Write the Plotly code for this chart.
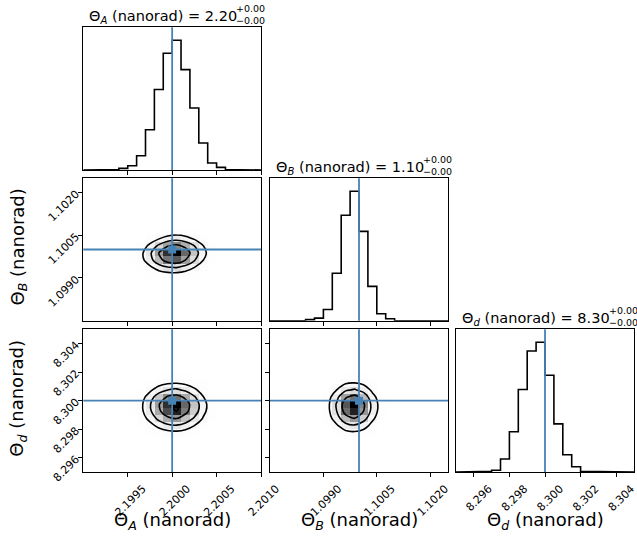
import numpy as np
import plotly.graph_objects as go

# ---- posterior samples binned on a 20-bin grid per parameter ----
N_BINS = 20
RANGE_A = [2.1990, 2.2010]
RANGE_B = [1.0975, 1.1025]
RANGE_D = [8.295, 8.305]

TRUTH_A = 2.2000
TRUTH_B = 1.1000
TRUTH_D = 8.3000

# 1D marginal counts
COUNTS_A = [0, 0, 0, 6, 28, 73, 242, 682, 1364, 1980, 2200, 1703, 1052, 458, 119, 44, 7, 0, 0, 0]
COUNTS_B = [0, 0, 0, 0, 24, 60, 261, 1100, 2440, 2997, 2068, 794, 162, 45, 6, 0, 0, 0, 0, 0]
COUNTS_D = [0, 0, 0, 12, 30, 232, 719, 1476, 2165, 2320, 1731, 861, 309, 93, 12, 0, 0, 0, 0, 0]

# 2D counts (non-empty block only): rows = y bins, cols = x bins
AB_ROW0, AB_COL0 = 4, 5   # B bins 4..13, A bins 5..15
JOINT_AB = [
    [0, 1, 2, 3, 5, 5, 4, 3, 1, 0, 0],
    [0, 1, 4, 8, 12, 13, 10, 6, 3, 1, 0],
    [2, 7, 20, 39, 54, 57, 42, 25, 10, 3, 1],
    [9, 30, 82, 160, 225, 243, 180, 105, 45, 11, 4],
    [20, 64, 176, 345, 490, 535, 405, 245, 103, 26, 9],
    [22, 73, 205, 410, 596, 662, 512, 316, 138, 36, 13],
    [13, 45, 130, 265, 400, 457, 370, 235, 105, 28, 10],
    [5, 16, 48, 100, 152, 178, 145, 92, 41, 11, 4],
    [1, 3, 10, 20, 31, 36, 30, 19, 8, 2, 1],
    [0, 1, 3, 6, 9, 10, 8, 5, 2, 1, 0],
]
AD_ROW0, AD_COL0 = 4, 5   # d bins 4..13, A bins 5..15
JOINT_AD = [
    [0, 1, 2, 4, 6, 7, 5, 3, 1, 0, 0],
    [2, 6, 16, 32, 46, 51, 40, 24, 11, 3, 1],
    [5, 17, 49, 98, 143, 159, 123, 76, 33, 9, 3],
    [11, 36, 101, 202, 293, 326, 252, 156, 68, 18, 7],
    [16, 53, 148, 296, 430, 478, 370, 228, 99, 26, 10],
    [17, 56, 159, 317, 461, 512, 396, 245, 107, 28, 10],
    [13, 42, 118, 237, 344, 382, 296, 183, 79, 21, 8],
    [6, 21, 59, 118, 171, 190, 147, 91, 40, 10, 4],
    [2, 7, 21, 42, 61, 68, 53, 33, 14, 4, 1],
    [1, 2, 6, 13, 18, 20, 16, 10, 4, 1, 0],
]
BD_ROW0, BD_COL0 = 4, 4   # d bins 4..13, B bins 4..13
JOINT_BD = [
    [0, 0, 1, 3, 7, 9, 6, 2, 0, 0],
    [1, 1, 6, 26, 57, 70, 48, 18, 4, 1],
    [2, 4, 19, 79, 176, 216, 149, 57, 12, 3],
    [4, 9, 39, 163, 361, 444, 306, 118, 24, 7],
    [5, 13, 57, 239, 530, 651, 449, 173, 35, 10],
    [6, 14, 61, 256, 568, 698, 482, 185, 38, 10],
    [4, 10, 45, 191, 424, 521, 359, 138, 28, 8],
    [2, 5, 23, 95, 211, 259, 179, 69, 14, 4],
    [1, 2, 8, 34, 76, 93, 64, 25, 5, 1],
    [0, 1, 2, 10, 23, 28, 19, 7, 2, 0],
]

# tick values and labels
TICKS_A = [2.1995, 2.2000, 2.2005, 2.2010]
TICKS_B = [1.0990, 1.1005, 1.1020]
TICKS_D = [8.296, 8.298, 8.300, 8.302, 8.304]
FMT_A, FMT_B, FMT_D = "{:.4f}", "{:.4f}", "{:.3f}"

LABEL_A = "Θ<sub><i>A</i></sub> (nanorad)"
LABEL_B = "Θ<sub><i>B</i></sub> (nanorad)"
LABEL_D = "Θ<sub><i>d</i></sub> (nanorad)"
TITLE_VALUES = ["2.20", "1.10", "8.30"]
TITLE_ERRS = [("+0.00", "−0.00")] * 3

# probability mass enclosed by the contour levels (0.5, 1, 1.5, 2 sigma)
SIGMAS = [0.5, 1.0, 1.5, 2.0]

TRUTH_COLOR = "#4682b4"
FONT = "DejaVu Sans"

W, H = 637, 541
COLS_PX = [(83.3, 261.0), (270.0, 448.0), (456.0, 634.0)]
ROWS_PX = [(27.3, 170.0), (178.3, 320.7), (329.3, 472.0)]


def xdom(c):
    a, b = COLS_PX[c]
    return [a / W, b / W]


def ydom(r):
    a, b = ROWS_PX[r]
    return [1 - b / H, 1 - a / H]


def edges(rng):
    return np.linspace(rng[0], rng[1], N_BINS + 1)


def centers(rng):
    e = edges(rng)
    return 0.5 * (e[1:] + e[:-1])


def grid(block, r0, c0):
    g = np.zeros((N_BINS, N_BINS))
    b = np.array(block, float)
    g[r0:r0 + b.shape[0], c0:c0 + b.shape[1]] = b
    return g


def contour_levels(hist):
    flat = np.sort(hist.ravel())[::-1]
    cum = np.cumsum(flat)
    cum /= cum[-1]
    levels = 1.0 - np.exp(-0.5 * np.array(SIGMAS) ** 2)
    v = []
    for q in levels:
        sel = flat[cum <= q]
        v.append(sel[-1] if sel.size else flat[0])
    return sorted(v)


# density shading: white -> black blended over white (1 - s^2)
GRAY_SCALE = []
for s in np.linspace(0, 1, 21):
    g = int(round(255 * (1 - s ** 2)))
    GRAY_SCALE.append([float(s), f"rgb({g},{g},{g})"])

fig = go.Figure()
shapes = []
annotations = []

hist_panels = [  # (axis idx, counts, range, truth)
    (1, COUNTS_A, RANGE_A, TRUTH_A),
    (3, COUNTS_B, RANGE_B, TRUTH_B),
    (6, COUNTS_D, RANGE_D, TRUTH_D),
]
for idx, counts, rng, truth in hist_panels:
    e = edges(rng)
    c = np.array(counts, float)
    xs = np.repeat(e, 2)
    ys = np.concatenate([[0], np.repeat(c, 2), [0]])
    sfx = "" if idx == 1 else str(idx)
    fig.add_trace(go.Scatter(x=xs, y=ys, mode="lines",
                             line=dict(color="black", width=1.6),
                             xaxis="x" + sfx, yaxis="y" + sfx,
                             hoverinfo="skip", showlegend=False))
    shapes.append(dict(type="line", xref="x" + sfx, yref="y" + sfx + " domain",
                       x0=truth, x1=truth, y0=0, y1=1,
                       line=dict(color=TRUTH_COLOR, width=1.8)))

pair_panels = [  # (axis idx, joint grid, xrange, yrange, xtruth, ytruth)
    (2, grid(JOINT_AB, AB_ROW0, AB_COL0), RANGE_A, RANGE_B, TRUTH_A, TRUTH_B),
    (4, grid(JOINT_AD, AD_ROW0, AD_COL0), RANGE_A, RANGE_D, TRUTH_A, TRUTH_D),
    (5, grid(JOINT_BD, BD_ROW0, BD_COL0), RANGE_B, RANGE_D, TRUTH_B, TRUTH_D),
]
for idx, hgrid, xr, yr, tx, ty in pair_panels:
    sfx = str(idx)
    xc, yc = centers(xr), centers(yr)
    fig.add_trace(go.Heatmap(x=xc, y=yc, z=hgrid, zmin=0, zmax=hgrid.max(),
                             colorscale=GRAY_SCALE, showscale=False,
                             xaxis="x" + sfx, yaxis="y" + sfx, hoverinfo="skip"))
    for v in contour_levels(hgrid):
        fig.add_trace(go.Contour(x=xc, y=yc, z=hgrid, autocontour=False,
                                 contours=dict(start=v, end=v + 0.5, size=1,
                                               coloring="none"),
                                 line=dict(color="black", width=1.6, smoothing=0.7),
                                 showscale=False, xaxis="x" + sfx, yaxis="y" + sfx,
                                 hoverinfo="skip"))
    shapes.append(dict(type="line", xref="x" + sfx, yref="y" + sfx + " domain",
                       x0=tx, x1=tx, y0=0, y1=1,
                       line=dict(color=TRUTH_COLOR, width=1.8)))
    shapes.append(dict(type="line", xref="x" + sfx + " domain", yref="y" + sfx,
                       x0=0, x1=1, y0=ty, y1=ty,
                       line=dict(color=TRUTH_COLOR, width=1.8)))
    fig.add_trace(go.Scatter(x=[tx], y=[ty], mode="markers",
                             marker=dict(symbol="square", size=8, color=TRUTH_COLOR),
                             xaxis="x" + sfx, yaxis="y" + sfx,
                             hoverinfo="skip", showlegend=False))


def axis(domain, rng, anchor, tickvals=None, fmt=None, labels=False, xdir=False):
    d = dict(domain=domain, range=rng, anchor=anchor, showline=True, mirror=True,
             linecolor="black", linewidth=1, showgrid=False, zeroline=False,
             fixedrange=True, automargin=False)
    if tickvals is not None:
        d.update(tickmode="array", tickvals=tickvals,
                 ticktext=[fmt.format(v) for v in tickvals],
                 ticks="outside", ticklen=4, tickwidth=1, tickcolor="black",
                 showticklabels=labels, tickangle=-45,
                 tickfont=dict(size=11, family=FONT, color="black"),
                 ticklabeloverflow="allow")
        if xdir and labels:
            # rotated labels centred on their tick
            d.update(ticklabelshift=15, ticklabelstandoff=1)
    else:
        d.update(ticks="", showticklabels=False)
    return d


ymax = lambda c: [0, 1.1 * max(c)]
layout_axes = dict(
    xaxis=axis(xdom(0), RANGE_A, "y", TICKS_A, FMT_A, xdir=True),
    yaxis=axis(ydom(0), ymax(COUNTS_A), "x"),
    xaxis2=axis(xdom(0), RANGE_A, "y2", TICKS_A, FMT_A, xdir=True),
    yaxis2=axis(ydom(1), RANGE_B, "x2", TICKS_B, FMT_B, labels=True),
    xaxis3=axis(xdom(1), RANGE_B, "y3", TICKS_B, FMT_B, xdir=True),
    yaxis3=axis(ydom(1), ymax(COUNTS_B), "x3"),
    xaxis4=axis(xdom(0), RANGE_A, "y4", TICKS_A, FMT_A, labels=True, xdir=True),
    yaxis4=axis(ydom(2), RANGE_D, "x4", TICKS_D, FMT_D, labels=True),
    xaxis5=axis(xdom(1), RANGE_B, "y5", TICKS_B, FMT_B, labels=True, xdir=True),
    yaxis5=axis(ydom(2), RANGE_D, "x5", TICKS_D, FMT_D),
    xaxis6=axis(xdom(2), RANGE_D, "y6", TICKS_D, FMT_D, labels=True, xdir=True),
    yaxis6=axis(ydom(2), ymax(COUNTS_D), "x6"),
)

# diagonal titles: "label = value" with stacked +/- errors
for k, (lab, val, (up, dn)) in enumerate(zip([LABEL_A, LABEL_B, LABEL_D],
                                             TITLE_VALUES, TITLE_ERRS)):
    cx = 0.5 * (COLS_PX[k][0] + COLS_PX[k][1])
    top = ROWS_PX[k][0]
    split = cx + 64.5
    annotations.append(dict(text=f"{lab} = {val}", xref="paper", yref="paper",
                            x=(split + 2) / W, y=1 - (top - 10) / H,
                            xanchor="right", yanchor="middle", showarrow=False,
                            font=dict(size=14.5, family=FONT, color="black")))
    annotations.append(dict(text=f"{up}<br>{dn}", xref="paper", yref="paper",
                            x=(split - 3) / W, y=1 - (top - 13) / H, align="left",
                            xanchor="left", yanchor="middle", showarrow=False,
                            font=dict(size=9.5, family=FONT, color="black")))

# axis labels
for k, lab in enumerate([LABEL_A, LABEL_B, LABEL_D]):
    cx = 0.5 * (COLS_PX[k][0] + COLS_PX[k][1])
    annotations.append(dict(text=lab, xref="paper", yref="paper",
                            x=cx / W, y=1 - 521 / H, xanchor="center",
                            yanchor="middle", showarrow=False,
                            font=dict(size=18, family=FONT, color="black")))
for r, lab in [(1, LABEL_B), (2, LABEL_D)]:
    cy = 0.5 * (ROWS_PX[r][0] + ROWS_PX[r][1])
    annotations.append(dict(text=lab, xref="paper", yref="paper",
                            x=18 / W, y=1 - (cy - 2) / H, xanchor="center",
                            yanchor="middle", textangle=-90, showarrow=False,
                            font=dict(size=18, family=FONT, color="black")))

fig.update_layout(width=W, height=H, margin=dict(l=0, r=0, t=0, b=0),
                  paper_bgcolor="white", plot_bgcolor="white",
                  showlegend=False, shapes=shapes, annotations=annotations,
                  **layout_axes)

fig.write_html("out.html")
